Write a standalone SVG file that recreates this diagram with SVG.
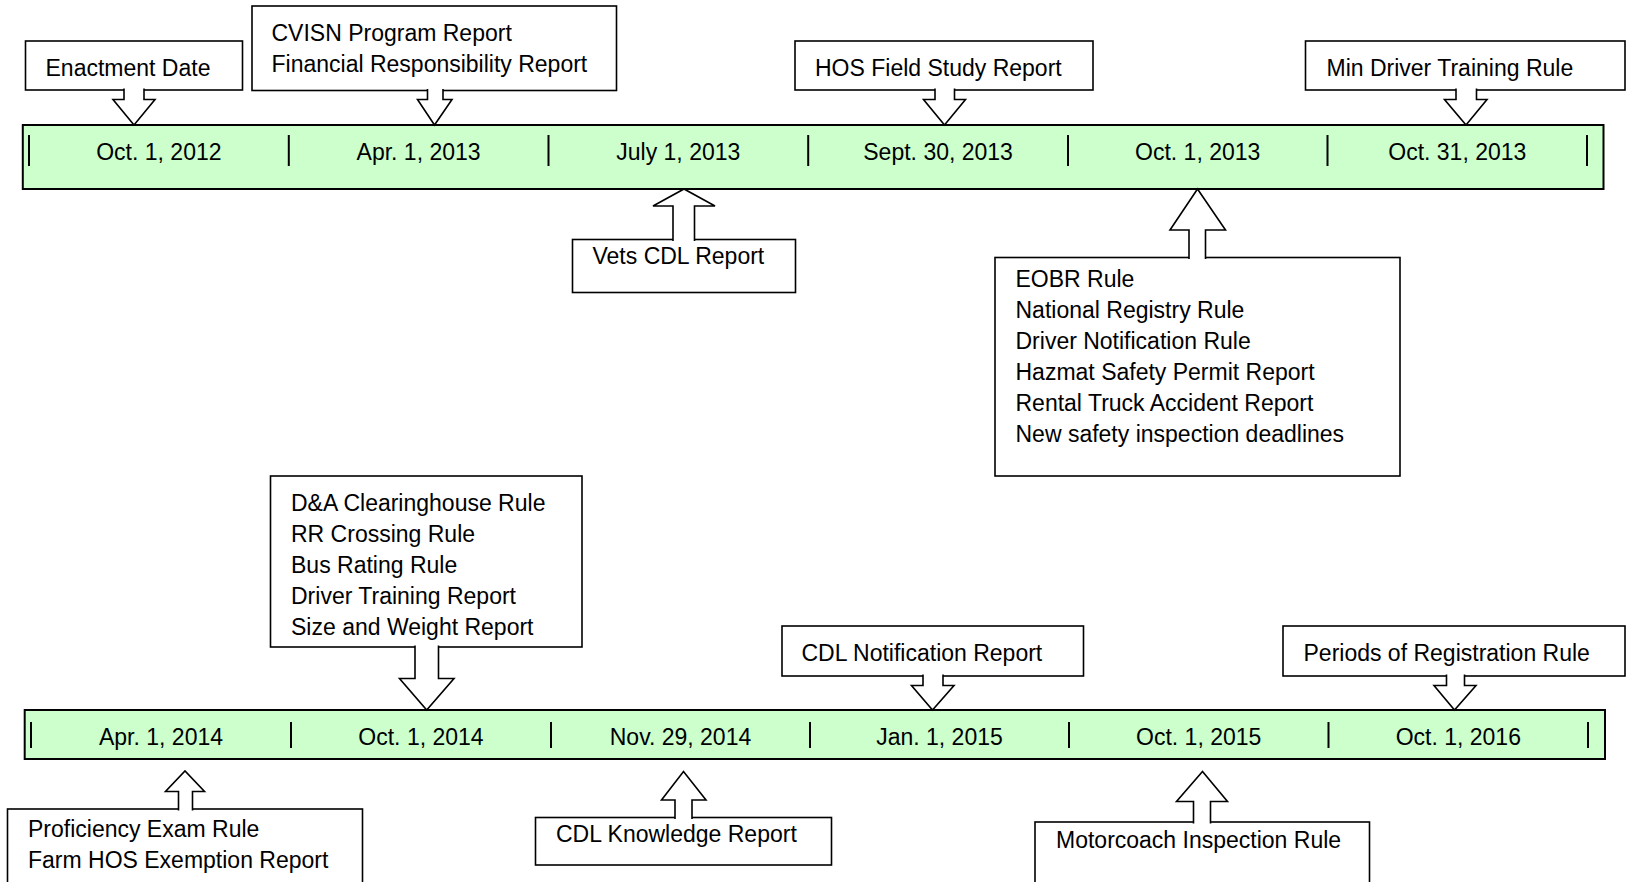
<svg xmlns="http://www.w3.org/2000/svg" width="1626" height="882" viewBox="0 0 1626 882">
<style>
.bg{fill:#ffffff}
.box{fill:#ffffff;stroke:#000;stroke-width:1.6}
.arr{fill:#ffffff;stroke:#000;stroke-width:1.6;stroke-linejoin:miter}
.bar{fill:#ccffcc;stroke:#000;stroke-width:2}
.div{stroke:#000;stroke-width:2}
text{font-family:"Liberation Sans",Arial,sans-serif;font-size:23px;fill:#000}
.date{text-anchor:middle}
</style>
<rect class="bg" x="0" y="0" width="1626" height="882"/>

<g id="timeline-top">
<rect class="bar" x="22.8" y="125" width="1580.7" height="64"/>
<line class="div" x1="29" y1="135" x2="29" y2="166"/>
<line class="div" x1="288.8" y1="135" x2="288.8" y2="166"/>
<line class="div" x1="548.5" y1="135" x2="548.5" y2="166"/>
<line class="div" x1="808.2" y1="135" x2="808.2" y2="166"/>
<line class="div" x1="1068" y1="135" x2="1068" y2="166"/>
<line class="div" x1="1327.5" y1="135" x2="1327.5" y2="166"/>
<line class="div" x1="1587" y1="135" x2="1587" y2="166"/>
<text class="date" x="158.9" y="159.5">Oct. 1, 2012</text>
<text class="date" x="418.6" y="159.5">Apr. 1, 2013</text>
<text class="date" x="678.3" y="159.5">July 1, 2013</text>
<text class="date" x="938.1" y="159.5">Sept. 30, 2013</text>
<text class="date" x="1197.7" y="159.5">Oct. 1, 2013</text>
<text class="date" x="1457.3" y="159.5">Oct. 31, 2013</text>
</g>

<g id="timeline-bottom">
<rect class="bar" x="24.7" y="710" width="1580.3" height="49"/>
<line class="div" x1="31" y1="722" x2="31" y2="748"/>
<line class="div" x1="291" y1="722" x2="291" y2="748"/>
<line class="div" x1="551" y1="722" x2="551" y2="748"/>
<line class="div" x1="810" y1="722" x2="810" y2="748"/>
<line class="div" x1="1069" y1="722" x2="1069" y2="748"/>
<line class="div" x1="1328.5" y1="722" x2="1328.5" y2="748"/>
<line class="div" x1="1588" y1="722" x2="1588" y2="748"/>
<text class="date" x="161" y="745">Apr. 1, 2014</text>
<text class="date" x="421" y="745">Oct. 1, 2014</text>
<text class="date" x="680.5" y="745">Nov. 29, 2014</text>
<text class="date" x="939.5" y="745">Jan. 1, 2015</text>
<text class="date" x="1198.7" y="745">Oct. 1, 2015</text>
<text class="date" x="1458.3" y="745">Oct. 1, 2016</text>
</g>

<g id="enactment">
<rect class="box" x="25.5" y="41" width="217" height="49"/>
<text x="45.5" y="75.5">Enactment Date</text>
</g>
<g id="cvisn">
<rect class="box" x="252" y="6" width="364.5" height="84.5"/>
<text x="271.5" y="41">CVISN Program Report</text>
<text x="271.5" y="72">Financial Responsibility Report</text>
</g>
<g id="hos">
<rect class="box" x="795" y="41" width="298" height="49"/>
<text x="815" y="75.5">HOS Field Study Report</text>
</g>
<g id="mindriver">
<rect class="box" x="1305.5" y="41" width="319.5" height="49"/>
<text x="1326.5" y="75.5">Min Driver Training Rule</text>
</g>
<g id="vets">
<rect class="box" x="572.5" y="239.5" width="223" height="53"/>
<text x="592.5" y="264">Vets CDL Report</text>
</g>
<g id="eobr">
<rect class="box" x="995" y="257.5" width="405" height="218.5"/>
<text x="1015.5" y="287.3">EOBR Rule</text>
<text x="1015.5" y="318.2">National Registry Rule</text>
<text x="1015.5" y="349.1">Driver Notification Rule</text>
<text x="1015.5" y="380">Hazmat Safety Permit Report</text>
<text x="1015.5" y="410.9">Rental Truck Accident Report</text>
<text x="1015.5" y="441.8">New safety inspection deadlines</text>
</g>
<g id="dna">
<rect class="box" x="270.5" y="476" width="311.5" height="171"/>
<text x="291" y="510.7">D&amp;A Clearinghouse Rule</text>
<text x="291" y="541.7">RR Crossing Rule</text>
<text x="291" y="572.7">Bus Rating Rule</text>
<text x="291" y="603.7">Driver Training Report</text>
<text x="291" y="634.7">Size and Weight Report</text>
</g>
<g id="cdlnotification">
<rect class="box" x="782" y="626" width="301.5" height="50"/>
<text x="801.5" y="661">CDL Notification Report</text>
</g>
<g id="periods">
<rect class="box" x="1283" y="626" width="342" height="50"/>
<text x="1303.5" y="661">Periods of Registration Rule</text>
</g>
<g id="proficiency">
<rect class="box" x="7.5" y="809" width="355" height="100"/>
<text x="28" y="837">Proficiency Exam Rule</text>
<text x="28" y="868">Farm HOS Exemption Report</text>
</g>
<g id="cdlknowledge">
<rect class="box" x="535.5" y="817.5" width="296" height="47.5"/>
<text x="556" y="842">CDL Knowledge Report</text>
</g>
<g id="motorcoach">
<rect class="box" x="1035" y="822" width="334.5" height="100"/>
<text x="1056" y="847.5">Motorcoach Inspection Rule</text>
</g>

<g id="connectors">
<path class="arr" d="M124,88.5 V99.5 H113 L134,125 L155,99.5 H144 V88.5"/>
<path class="arr" d="M427.5,89 V99.5 H417.5 L434.5,125 L452,99.5 H443 V89"/>
<path class="arr" d="M935,88.5 V99.5 H923.5 L944.5,125 L965.5,99.5 H954.5 V88.5"/>
<path class="arr" d="M1456,88.5 V99.5 H1444.5 L1466,125 L1487,99.5 H1476.5 V88.5"/>
<path class="arr" d="M673,241 V206 H653 L684,189 L715,206 H694.5 V241"/>
<path class="arr" d="M1189,259 V230 H1170 L1197.5,189 L1225.5,230 H1205.5 V259"/>
<path class="arr" d="M415,645.5 V678.5 H399.5 L426.7,710 L454,678.5 H438.5 V645.5"/>
<path class="arr" d="M923,674.5 V685.5 H911.5 L932.5,710 L954,685.5 H943 V674.5"/>
<path class="arr" d="M1446.5,674.5 V685.5 H1434 L1454.5,710 L1476,685.5 H1464.5 V674.5"/>
<path class="arr" d="M178.5,810.5 V791.5 H165.5 L185,771 L204.5,791.5 H192.5 V810.5"/>
<path class="arr" d="M675,819 V800 H661.5 L683.5,771.5 L706,800 H692 V819"/>
<path class="arr" d="M1193.5,823.5 V801.5 H1176.5 L1202.5,771.5 L1227.5,801.5 H1210.5 V823.5"/>
</g>
</svg>
